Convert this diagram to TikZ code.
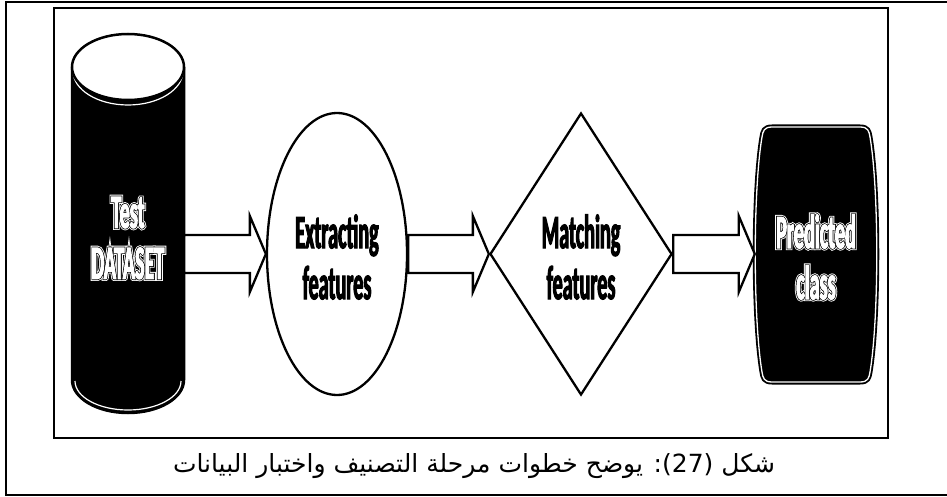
\documentclass[tikz,border=0pt]{standalone}
\usepackage{fontspec}
\newfontfamily\boxfont{Carlito Bold}[FakeStretch=0.42, FakeBold=2]
\newfontfamily\rimface{Carlito Bold}[FakeStretch=0.42, FakeBold=5]
\newfontfamily\haloface{Carlito Bold}[FakeStretch=0.42, FakeBold=8.5]
\newfontfamily\arabicfont[Script=Arabic]{DejaVu Sans}
\TeXXeTstate=1
\usetikzlibrary{shapes.geometric,calc,backgrounds}

% white word, black rim, white ring, set on black
\newcommand\halotext[1]{\leavevmode\rlap{\haloface\color{white}#1}\rlap{\rimface\color{black}#1}{\color{white}#1}}

\newcommand\blockarrow[2]{%
  \filldraw[blockarr] let \p1=(#1), \p2=(#2) in
    (\x1,\y1+19pt) -- (\x2-16pt,\y1+19pt) -- (\x2-16pt,\y1+38pt) -- (\x2,\y1)
    -- (\x2-16pt,\y1-38pt) -- (\x2-16pt,\y1-19pt) -- (\x1,\y1-19pt) -- cycle;}

\begin{document}
\begin{tikzpicture}[x=1pt, y=-1pt,
  frame/.style={line width=2.5pt, black},
  lbl/.style={font=\boxfont\fontsize{48}{51}\selectfont, align=center, inner sep=0pt},
  stagebox/.style={draw=black, line width=2.3pt, fill=white, inner sep=0pt},
  blockarr/.style={draw=black, line width=2.3pt, fill=white, line join=miter},
  capt/.style={font=\arabicfont\fontsize{25}{30}\selectfont}]

\useasboundingbox (0,0) rectangle (947,497);
\draw[frame] (947,2) -- (6,2) -- (6,495) -- (947,495);
\draw[frame] (54,8) rectangle (888,438);

% test data cylinder
\fill[black] (72,67) -- (72,380) arc[start angle=180, end angle=0, x radius=56, y radius=33] -- (184,67) -- cycle;
\draw[line width=2.5pt] (72,67) -- (72,380) arc[start angle=180, end angle=0, x radius=56, y radius=33] -- (184,67);
\draw[white, line width=1.2pt] (75,381) arc[start angle=180, end angle=0, x radius=53, y radius=29];
\draw[white, line width=1.2pt] (73,71) arc[start angle=180, end angle=0, x radius=55, y radius=34];
\filldraw[fill=white, line width=2.5pt] (128,67) ellipse[x radius=56, y radius=33];
\node[lbl, minimum width=112pt] (data) at (128,238) {\halotext{Test}\\\halotext{DATASET}};

\node[stagebox, ellipse, minimum width=140pt, minimum height=282pt] (ext) at (337,254) {};
\node[lbl] (extl) at (337,257) {Extracting\\features};

\node[stagebox, diamond, minimum width=182pt, minimum height=282pt] (match) at (581,254) {};
\node[lbl] (matchl) at (581,257) {Matching\\features};

% predicted class, bulged sides
\filldraw[fill=black, line width=5pt] (772,127) -- (860,127) .. controls (868,127) and (869,131) .. (870,137)
  .. controls (879,190) and (879,318) .. (870,372) .. controls (869,378) and (868,382) .. (860,382)
  -- (772,382) .. controls (764,382) and (763,378) .. (762,372)
  .. controls (753,318) and (753,190) .. (762,137) .. controls (763,131) and (764,127) .. (772,127) -- cycle;
\draw[white, line width=1.3pt] (772,127) -- (860,127) .. controls (868,127) and (869,131) .. (870,137)
  .. controls (879,190) and (879,318) .. (870,372) .. controls (869,378) and (868,382) .. (860,382)
  -- (772,382) .. controls (764,382) and (763,378) .. (762,372)
  .. controls (753,318) and (753,190) .. (762,137) .. controls (763,131) and (764,127) .. (772,127) -- cycle;
\node[lbl, minimum width=122pt, minimum height=255pt] (pred) at (816,254.5) {};
\node[lbl] (predl) at (816,257) {\halotext{Predicted}\\\halotext{class}};

\blockarrow{data.east |- ext.west}{ext.west}
\blockarrow{ext.east}{match.west}
\blockarrow{match.east}{pred.west}

\node[capt] (cap) at (474,466) {\beginR شكل \beginL(27)\endL: يوضح خطوات مرحلة التصنيف واختبار البيانات\endR};
\end{tikzpicture}
\end{document}
